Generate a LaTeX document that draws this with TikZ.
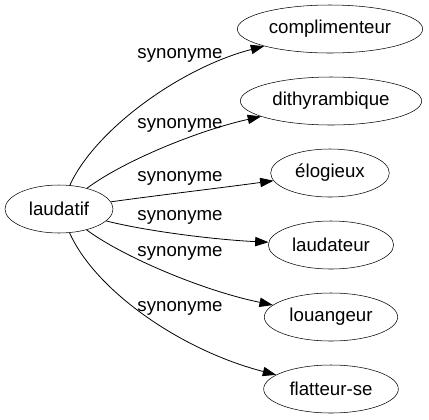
\documentclass[tikz,border=0pt]{standalone}
\usepackage{fontspec}
\setmainfont{Liberation Sans}
\usetikzlibrary{shapes.geometric,arrows.meta}
\begin{document}
\begin{tikzpicture}[x=0.75pt,y=-0.75pt,
  word/.style={draw,ellipse,inner sep=0pt,minimum height=36pt,font=\fontsize{14pt}{16pt}\selectfont},
  lab/.style={inner sep=0pt,font=\fontsize{14pt}{16pt}\selectfont},
  syn/.style={-{Triangle[length=10pt,width=7pt]},line width=0.6pt}]
\useasboundingbox (0,0) rectangle (429,419);
\node[word,minimum width=81pt] (a) at (59,209) {laudatif};
\node[word,minimum width=139pt] (b1) at (330,29) {complimenteur};
\node[word,minimum width=136pt] (b2) at (331,101) {dithyrambique};
\node[word,minimum width=89pt] (b3) at (330,173) {élogieux};
\node[word,minimum width=94pt] (b4) at (331,245) {laudateur};
\node[word,minimum width=100pt] (b5) at (331,317) {louangeur};
\node[word,minimum width=101pt] (b6) at (331,389) {flatteur-se};
\draw[syn] (a) .. controls (95,130) and (180,68) .. (b1);
\draw[syn] (a) .. controls (125,160) and (200,130) .. (b2);
\draw[syn] (a) .. controls (160,195) and (220,188) .. (b3);
\draw[syn] (a) .. controls (150,232) and (220,240) .. (b4);
\draw[syn] (a) .. controls (120,255) and (200,290) .. (b5);
\draw[syn] (a) .. controls (95,290) and (180,350) .. (b6);
\node[lab] (l1) at (180,55) {synonyme};
\node[lab] (l2) at (180,125) {synonyme};
\node[lab] (l3) at (180,178) {synonyme};
\node[lab] (l4) at (180,217) {synonyme};
\node[lab] (l5) at (180,253) {synonyme};
\node[lab] (l6) at (180,308) {synonyme};
\end{tikzpicture}
\end{document}
